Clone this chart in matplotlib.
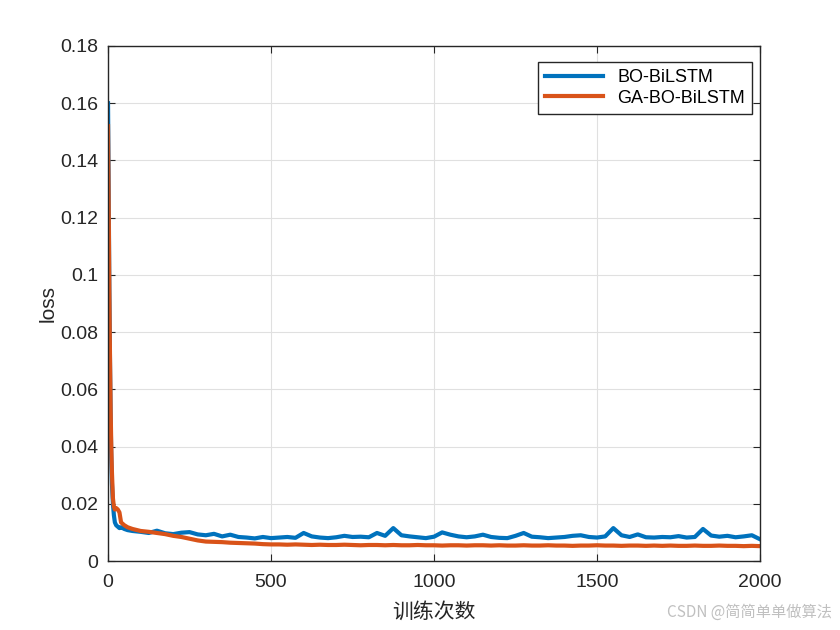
import numpy as np
import matplotlib.pyplot as plt

plt.rcParams['font.family'] = ['Liberation Sans', 'Noto Sans CJK SC', 'DejaVu Sans']

# early iterations (fast drop)
iters_early = [0, 2, 4, 6, 8, 10, 12, 15, 18, 21, 25, 30, 35, 40, 50, 60, 75]
bo_early = [0.160, 0.130, 0.095, 0.070, 0.050, 0.036, 0.027, 0.020, 0.016, 0.0135,
            0.0125, 0.0120, 0.0115, 0.0118, 0.0112, 0.0108, 0.0105]
ga_early = [0.152, 0.125, 0.095, 0.072, 0.053, 0.040, 0.031, 0.022, 0.019, 0.018,
            0.0185, 0.018, 0.017, 0.0135, 0.0125, 0.0118, 0.0112]

# plateau, every 25 iterations from 100 to 2000
iters_late = list(range(100, 2001, 25))
bo_late = [0.0102, 0.0098, 0.0106, 0.0097, 0.0094, 0.0099, 0.0101, 0.0093, 0.0090, 0.0095,
           0.0086, 0.0092, 0.0084, 0.0082, 0.0079, 0.0084, 0.0080, 0.0082, 0.0084, 0.0081,
           0.0098, 0.0086, 0.0082, 0.0080, 0.0083, 0.0088, 0.0084, 0.0085, 0.0083, 0.0098,
           0.0088, 0.0115, 0.0090, 0.0086, 0.0083, 0.0080, 0.0085, 0.0100, 0.0092, 0.0086,
           0.0083, 0.0086, 0.0092, 0.0084, 0.0081, 0.0080, 0.0088, 0.0098, 0.0085, 0.0083,
           0.0080, 0.0082, 0.0084, 0.0088, 0.0090, 0.0084, 0.0082, 0.0086, 0.0115, 0.0090,
           0.0084, 0.0093, 0.0083, 0.0082, 0.0084, 0.0083, 0.0087, 0.0082, 0.0084, 0.0112,
           0.0089, 0.0085, 0.0088, 0.0083, 0.0086, 0.0090, 0.0076]
ga_late = [0.0105, 0.0102, 0.0098, 0.0094, 0.0088, 0.0084, 0.0078, 0.0072, 0.0068, 0.0067,
           0.0066, 0.0064, 0.0063, 0.0062, 0.0061, 0.0059, 0.0058, 0.0058, 0.0057, 0.0058,
           0.0057, 0.0056, 0.0057, 0.0056, 0.0056, 0.0057, 0.0056, 0.0055, 0.0056, 0.0056,
           0.0055, 0.0056, 0.0055, 0.0055, 0.0056, 0.0055, 0.0055, 0.0054, 0.0055, 0.0055,
           0.0054, 0.0055, 0.0055, 0.0054, 0.0055, 0.0054, 0.0054, 0.0055, 0.0054, 0.0054,
           0.0055, 0.0054, 0.0054, 0.0053, 0.0054, 0.0054, 0.0055, 0.0054, 0.0054, 0.0053,
           0.0054, 0.0054, 0.0053, 0.0054, 0.0053, 0.0054, 0.0053, 0.0053, 0.0054, 0.0053,
           0.0053, 0.0054, 0.0053, 0.0053, 0.0052, 0.0053, 0.0052]

x = iters_early + iters_late
bo = bo_early + bo_late
ga = ga_early + ga_late

fig = plt.figure(figsize=(8.4, 6.3), dpi=100)
ax = fig.add_axes([0.1286, 0.1095, 0.7762, 0.8175])

ax.plot(x, bo, color='#0072BD', lw=3, label='BO-BiLSTM')
ax.plot(x, ga, color='#D95319', lw=3, label='GA-BO-BiLSTM')

ax.set_xlim(0, 2000)
ax.set_ylim(0, 0.18)
ax.set_xticks([0, 500, 1000, 1500, 2000])
ax.set_yticks(np.arange(0, 0.181, 0.02))
ax.set_yticklabels(['0', '0.02', '0.04', '0.06', '0.08', '0.1', '0.12', '0.14', '0.16', '0.18'])
ax.grid(True, color='#e0e0e0', lw=0.8)
ax.tick_params(direction='in', top=True, right=True, labelsize=14, colors='#262626', length=5)
ax.tick_params(axis='x', pad=9)
ax.tick_params(axis='y', pad=7)
for s in ax.spines.values():
    s.set_color('#262626')
    s.set_linewidth(1)

ax.set_xlabel('训练次数', fontsize=15, color='#262626', labelpad=8)
ax.set_ylabel('loss', fontsize=15, color='#262626', labelpad=2)

leg = ax.legend(loc='upper right', bbox_to_anchor=(0.988, 0.969), borderaxespad=0,
                fontsize=13, frameon=True, fancybox=False, edgecolor='#262626',
                handlelength=3.2, borderpad=0.4, labelspacing=0.2, framealpha=1)
leg.get_frame().set_linewidth(1)

fig.text(0.99, 0.028, 'CSDN @简简单单做算法', ha='right', va='center', fontsize=11,
         color='#c0c0c0', family=['Noto Sans CJK SC', 'DejaVu Sans'])

fig.savefig('out.png', dpi=100)
